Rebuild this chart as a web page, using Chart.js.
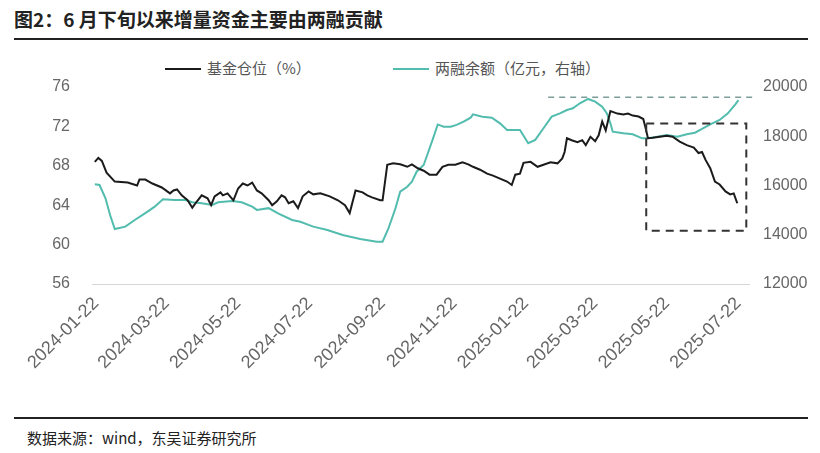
<!DOCTYPE html>
<html>
<head>
<meta charset="utf-8">
<script src="https://cdn.jsdelivr.net/npm/chart.js@4"></script>
<style>
  body { margin: 0; width: 820px; height: 453px; background: #fff; position: relative; overflow: hidden; font-family: "Noto Sans CJK SC", sans-serif; }
  #title { position: absolute; left: 14px; top: 5px; font-size: 19px; font-weight: bold; color: #222; white-space: nowrap; }
  .rule { position: absolute; left: 14px; width: 794px; height: 2px; background: #222; }
  .leg { position: absolute; top: 58px; font-size: 15px; color: #555; white-space: nowrap; line-height: 20px; }
  .leg i { display: inline-block; width: 36px; height: 2px; vertical-align: middle; margin-right: 6px; position: relative; top: -1px; }
  #src { position: absolute; left: 27px; top: 427px; font-size: 15px; color: #222; white-space: nowrap; }
  #wrap { position: absolute; left: 0; top: 0; width: 820px; height: 410px; }
</style>
</head>
<body>
<div id="title">图2：6 月下旬以来增量资金主要由两融贡献</div>
<div class="rule" style="top:38px"></div>
<div class="leg" style="left:165px"><i style="background:#1b1b1b"></i>基金仓位（%）</div>
<div class="leg" style="left:393px"><i style="background:#52bcae"></i>两融余额（亿元，右轴）</div>
<div id="wrap"><canvas id="myChart"></canvas></div>
<div class="rule" style="top:417px"></div>
<div id="src">数据来源：wind，东吴证券研究所</div>
<script>
// x = days since 2024-01-22
const tickDays = [0, 60, 121, 182, 244, 305, 366, 425, 486, 547];
const tickLabels = ['2024-01-22', '2024-03-22', '2024-05-22', '2024-07-22', '2024-09-22',
  '2024-11-22', '2025-01-22', '2025-03-22', '2025-05-22', '2025-07-22'];

// 基金仓位 (%)
const fundDays = [-1, 2, 5, 9, 16, 27, 35, 37, 42, 48, 56, 63, 66, 69, 73, 78, 82, 86, 90, 95,
  98, 101, 106, 108, 112, 117, 121, 125, 129, 133, 137, 141, 147, 150, 154, 158, 161, 164, 168, 172,
  176, 181, 185, 191, 199, 206, 212, 216, 221, 227, 231, 235, 242, 244, 248, 253, 259, 265, 269, 274,
  279, 284, 290, 295, 300, 306, 312, 317, 321, 327, 333, 338, 344, 350, 354, 357, 361, 364, 370, 376,
  381, 387, 393, 397, 399, 401, 405, 410, 414, 417, 421, 425, 428, 431, 434, 435, 438, 444, 449, 453,
  457, 462, 466, 468, 470, 474, 480, 486, 491, 497, 503, 509, 513, 516, 519, 523, 527, 531, 536, 540,
  543, 546];
const fundPos = [68.4, 68.8, 68.5, 67.3, 66.4, 66.3, 66.0, 66.6, 66.6, 66.2, 65.8, 65.2, 65.5, 65.6, 65.0, 64.5, 63.75, 64.4, 65.0, 64.7,
  64.0, 64.9, 65.3, 65.0, 65.2, 64.5, 65.7, 66.2, 66.0, 66.3, 65.5, 65.2, 64.5, 64.0, 64.4, 65.0, 64.8, 64.2, 64.4, 63.7,
  64.9, 65.4, 65.1, 65.2, 64.9, 64.5, 64.0, 63.2, 65.5, 65.3, 65.0, 64.8, 64.5, 64.5, 68.1, 68.25, 68.15, 67.9, 68.15, 67.75,
  67.5, 67.1, 67.1, 67.9, 68.1, 68.1, 68.35, 68.15, 67.9, 67.6, 67.2, 67.0, 66.7, 66.4, 66.05, 67.1, 67.2, 68.3, 68.4, 67.9,
  68.1, 68.35, 68.25, 68.75, 69.4, 70.8, 70.6, 70.4, 70.6, 70.1, 70.95, 70.5, 71.1, 72.5, 71.6, 72.1, 73.55, 73.3, 73.2, 73.3,
  73.1, 73.0, 72.75, 71.8, 70.8, 70.85, 70.95, 71.05, 70.95, 70.45, 70.1, 69.85, 69.3, 69.4, 68.6, 67.75, 66.4, 66.1, 65.4, 65.1,
  65.2, 64.2];

// 两融余额 (亿元, 右轴)
const marginDays = [-1, 3, 8, 12, 16, 25, 33, 42, 50, 57, 67, 76, 82, 90, 99, 104, 116, 124, 133, 137,
  147, 155, 167, 174, 181, 185, 197, 210, 225, 239, 244, 249, 255, 259, 265, 269, 273, 279, 283, 287,
  291, 296, 302, 307, 313, 319, 321, 329, 337, 344, 350, 357, 361, 368, 374, 381, 388, 395, 401, 406,
  412, 419, 425, 431, 435, 438, 440, 449, 457, 465, 470, 478, 486, 495, 503, 510, 516, 523, 531, 538,
  544, 547];
const marginBal = [16050, 16020, 15490, 14800, 14235, 14330, 14600, 14880, 15140, 15440, 15410, 15410, 15320, 15280, 15210, 15320, 15370, 15320, 15140, 15010,
  15080, 14870, 14600, 14530, 14400, 14330, 14195, 13990, 13830, 13720, 13720, 14260, 15075, 15750, 15950, 16155, 16560, 16830, 17370, 17915,
  18480, 18390, 18390, 18460, 18590, 18755, 18890, 18795, 18755, 18525, 18255, 18255, 18255, 17715, 17850, 18325, 18795, 18930, 19065, 19135,
  19340, 19515, 19405, 19200, 18930, 18525, 18185, 18120, 18080, 17915, 17915, 17980, 18050, 17980, 18080, 18145, 18295, 18485, 18660, 18930,
  19270, 19470];

// dashed marks: horizontal line at margin peak, box around the recent period
const peakLineX = [385, 559];
const peakLineY = 19580;
const boxX = [468.5, 553.7];
const boxY = [72.3, 61.4];

const marks = {
  id: 'marks',
  afterDatasetsDraw(chart) {
    const { ctx, scales } = chart;
    const x = scales.x, y = scales.y, y2 = scales.y2;
    ctx.save();
    ctx.setLineDash([6, 5]);
    ctx.lineWidth = 1.5;
    ctx.strokeStyle = '#7c9e99';
    ctx.beginPath();
    ctx.moveTo(x.getPixelForValue(peakLineX[0]), y2.getPixelForValue(peakLineY));
    ctx.lineTo(x.getPixelForValue(peakLineX[1]), y2.getPixelForValue(peakLineY));
    ctx.stroke();
    ctx.setLineDash([8, 6]);
    ctx.lineWidth = 2;
    ctx.strokeStyle = '#333';
    const l = x.getPixelForValue(boxX[0]), r = x.getPixelForValue(boxX[1]);
    const t = y.getPixelForValue(boxY[0]), b = y.getPixelForValue(boxY[1]);
    ctx.strokeRect(l, t, r - l, b - t);
    ctx.restore();
  }
};

const tickFont = { family: '"Liberation Sans", Arial', size: 16 };

new Chart(document.getElementById('myChart'), {
  type: 'line',
  data: {
    datasets: [{
      label: '基金仓位（%）',
      data: fundDays.map((d, i) => ({ x: d, y: fundPos[i] })),
      borderColor: '#1b1b1b',
      borderWidth: 2,
      pointRadius: 0,
      yAxisID: 'y'
    }, {
      label: '两融余额（亿元，右轴）',
      data: marginDays.map((d, i) => ({ x: d, y: marginBal[i] })),
      borderColor: '#52bcae',
      borderWidth: 2,
      pointRadius: 0,
      yAxisID: 'y2'
    }]
  },
  options: {
    responsive: true,
    maintainAspectRatio: false,
    animation: false,
    layout: { padding: { top: 87, left: 0, right: 0, bottom: 0 } },
    plugins: { legend: { display: false }, tooltip: { enabled: false } },
    scales: {
      x: {
        type: 'linear',
        min: -3.4,
        max: 556,
        grid: { display: false, drawTicks: false },
        border: { display: true, color: '#d6d6d6', width: 1 },
        afterBuildTicks: s => { s.ticks = tickDays.map(v => ({ value: v })); },
        afterFit: s => { s.height = 126; },
        ticks: {
          autoSkip: false,
          minRotation: 45,
          maxRotation: 45,
          padding: 9,
          color: '#666',
          font: { family: '"Liberation Sans", Arial', size: 18 },
          callback: (v) => tickLabels[tickDays.indexOf(v)]
        }
      },
      y: {
        position: 'left',
        min: 56, max: 76,
        grid: { display: false },
        border: { display: false },
        afterFit: s => { s.width = 92; },
        ticks: { stepSize: 4, padding: 14, color: '#666', font: tickFont }
      },
      y2: {
        position: 'right',
        min: 12000, max: 20000,
        grid: { display: false },
        border: { display: false },
        afterFit: s => { s.width = 71; },
        ticks: { stepSize: 2000, padding: 6, color: '#666', font: tickFont, callback: v => String(v) }
      }
    }
  },
  plugins: [marks]
});
</script>
</body>
</html>
